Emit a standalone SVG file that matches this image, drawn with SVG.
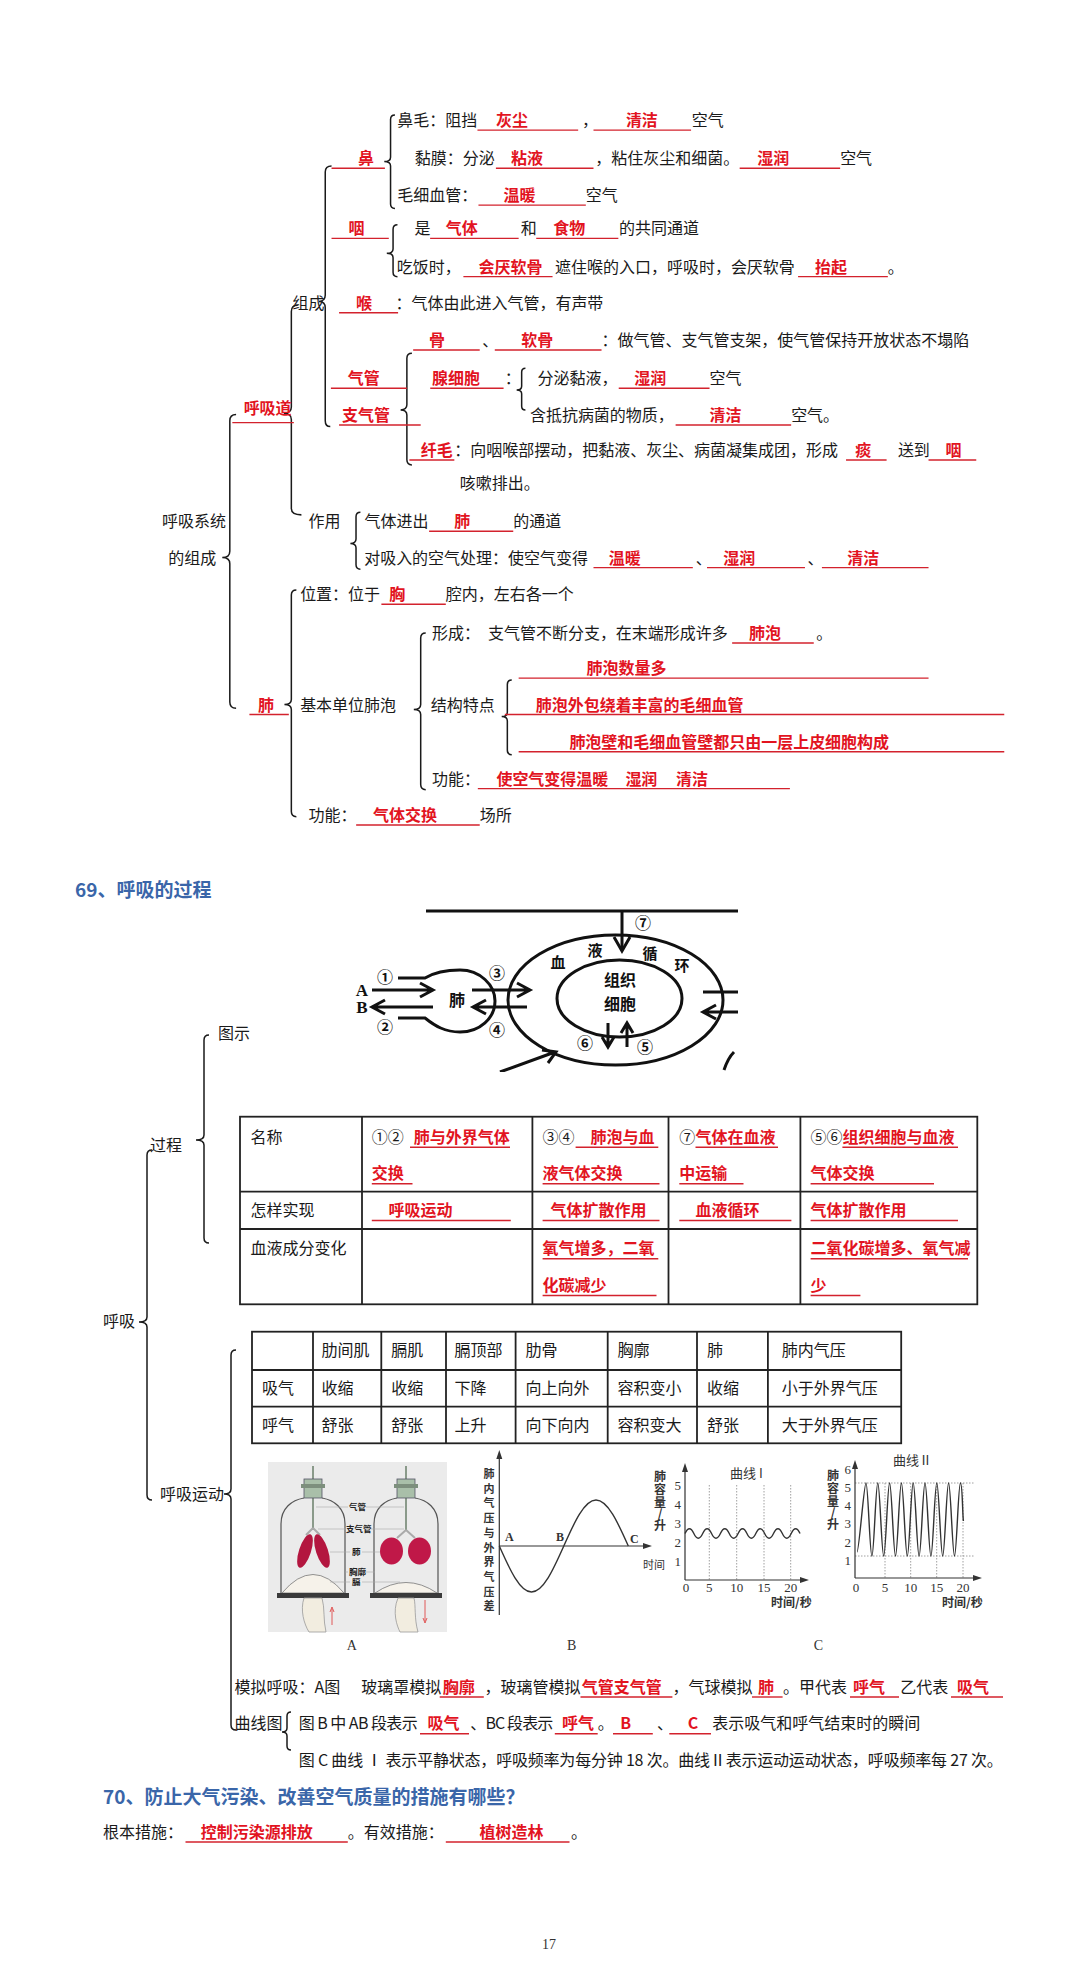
<svg xmlns="http://www.w3.org/2000/svg" width="1080" height="1979" viewBox="0 0 1080 1979">
<defs>
<style>
.t{font-family:"Noto Sans CJK SC","Noto Sans",sans-serif;font-size:12.74px;fill:#1a1a1a}
.r{font-family:"Noto Sans CJK SC","Noto Sans",sans-serif;font-size:12.74px;font-weight:700;fill:#e2141f}
.u{stroke:#d3222d;stroke-width:1.1;fill:none}
.br{fill:none;stroke:#1a1a1a;stroke-width:1.2}
.t16{font-family:"Noto Sans CJK SC","Noto Sans",sans-serif;font-size:16px;fill:#1a1a1a}
.r16{font-family:"Noto Sans CJK SC","Noto Sans",sans-serif;font-size:16px;font-weight:700;fill:#e2141f}
.u16{stroke:#d3222d;stroke-width:1.4;fill:none}
.br16{fill:none;stroke:#1a1a1a;stroke-width:1.5}
.h{font-family:"Noto Sans CJK SC","Noto Sans",sans-serif;font-size:19px;font-weight:700;fill:#3a66a9}
.fig{fill:none;stroke:#111;stroke-width:3}
.fgt{font-family:"Noto Sans CJK SC","Noto Sans",sans-serif;font-weight:700;fill:#111;text-anchor:middle}
.grid{stroke:#888;stroke-width:0.8;stroke-dasharray:1.5 1.5;fill:none}
.ax{stroke:#333;stroke-width:1.2;fill:none}
.cv{stroke:#333;stroke-width:1.4;fill:none}
.tb{fill:none;stroke:#222;stroke-width:1.8}
.gl{font-family:"Liberation Serif",serif;font-size:13px;fill:#333}
.gc{font-family:"Noto Sans CJK SC",sans-serif;font-size:12px;font-weight:700;fill:#333}
.lb{font-family:"Noto Sans CJK SC",sans-serif;font-size:8.5px;font-weight:700;fill:#222}
.ld{stroke:#aaa;stroke-width:0.6}
</style>
<clipPath id="clipFig"><rect x="340" y="895" width="398" height="177"/></clipPath>
</defs>
<rect width="1080" height="1979" fill="#fff"/>

<!-- ===== Section: respiratory system composition (drawn in scaled coordinates) ===== -->
<g transform="scale(1.2558)">
<g id="connectors-top">
<path class="br" d="M314.5,91.6 Q311,91.6 311,95.1 L311,125.2 Q311,128.7 306,128.7 Q311,128.7 311,132.2 L311,162.5 Q311,166 314.5,166"/>
<path class="br" d="M316.5,179 Q313,179 313,182.5 L313,198.2 Q313,201.7 308,201.7 Q313,201.7 313,205.2 L313,216.8 Q313,220.3 316.5,220.3"/>
<path class="br" d="M264,132.2 Q259,132.2 259,137 L259,235 Q259,240 254,240 Q259,240 259,245 L259,335 Q259,339.7 263,339.7"/>
<path class="br" d="M237,243 Q232,243 232,248 L232,324 Q232,329 226,329 Q232,329 232,334 L232,405 Q232,410 240,410"/>
<path class="br" d="M328,281.3 Q324,281.3 324,285.3 L324,322.4 Q324,326.4 319,326.4 Q324,326.4 324,330.4 L324,366.2 Q324,370.2 328,370.2"/>
<path class="br" d="M418.4,293.3 Q415.4,293.3 415.4,296.3 L415.4,307.5 Q415.4,310.5 411.4,310.5 Q415.4,310.5 415.4,313.5 L415.4,323.4 Q415.4,326.4 418.4,326.4"/>
<path class="br" d="M287,408 Q283.5,408 283.5,411.5 L283.5,429.2 Q283.5,432.7 279,432.7 Q283.5,432.7 283.5,436.2 L283.5,449.8 Q283.5,453.3 287,453.3"/>
<path class="br" d="M188,330 Q183,330 183,335 L183,439 Q183,444 177,444 Q183,444 183,449 L183,559 Q183,564 188,564"/>
<path class="br" d="M236,469.8 Q232,469.8 232,473.8 L232,557 Q232,561 226.5,561 Q232,561 232,565 L232,646.3 Q232,650.3 236,650.3"/>
<path class="br" d="M339,504 Q335,504 335,508 L335,561 Q335,565 329.5,565 Q335,565 335,569 L335,624.8 Q335,628.8 339,628.8"/>
<path class="br" d="M407.5,541.5 Q404,541.5 404,545 L404,567.1 Q404,570.6 399.5,570.6 Q404,570.6 404,574.1 L404,597.5 Q404,601 407.5,601"/>
</g>

<g id="n-bi">
<text class="r" x="285" y="130.8">鼻</text><line class="u" x1="264" y1="134" x2="306.5" y2="134"/>
<text class="t" x="316.3" y="100.4">鼻毛：阻挡</text>
<text class="r" x="395" y="100.4">灰尘</text><line class="u" x1="380.2" y1="103.6" x2="460.4" y2="103.6"/>
<text class="t" x="463.4" y="100.4">，</text>
<text class="r" x="498.4" y="100.4">清洁</text><line class="u" x1="472.6" y1="103.6" x2="550.3" y2="103.6"/>
<text class="t" x="550.9" y="100.4">空气</text>
<text class="t" x="330.3" y="130.8">黏膜：分泌</text>
<text class="r" x="407" y="130.8">粘液</text><line class="u" x1="394.9" y1="134" x2="472.6" y2="134"/>
<text class="t" x="474.1" y="130.8">，粘住灰尘和细菌。</text>
<text class="r" x="603" y="130.8">湿润</text><line class="u" x1="589" y1="134" x2="669" y2="134"/>
<text class="t" x="669" y="130.8">空气</text>
<text class="t" x="316.3" y="160.1">毛细血管：</text>
<text class="r" x="401" y="160.1">温暖</text><line class="u" x1="381" y1="163.3" x2="466.5" y2="163.3"/>
<text class="t" x="466.5" y="160.1">空气</text>
</g>

<g id="n-yan">
<text class="r" x="277.6" y="186.6">咽</text><line class="u" x1="264" y1="189.8" x2="309.6" y2="189.8"/>
<text class="t" x="330" y="186.6">是</text>
<text class="r" x="355" y="186.6">气体</text><line class="u" x1="342.5" y1="189.8" x2="413" y2="189.8"/>
<text class="t" x="414.7" y="186.6">和</text>
<text class="r" x="440.6" y="186.6">食物</text><line class="u" x1="427" y1="189.8" x2="492.4" y2="189.8"/>
<text class="t" x="493" y="186.6">的共同通道</text>
<text class="t" x="316" y="217.1">吃饭时，</text>
<text class="r" x="381" y="217.1">会厌软骨</text><line class="u" x1="369" y1="220.3" x2="440" y2="220.3"/>
<text class="t" x="442" y="217.1">遮住喉的入口，呼吸时，会厌软骨</text>
<text class="r" x="649" y="217.1">抬起</text><line class="u" x1="635.5" y1="220.3" x2="707" y2="220.3"/>
<text class="t" x="707" y="217.1">。</text>
</g>

<g id="n-zucheng"><text class="t" x="233" y="245.8">组成</text></g>

<g id="n-hou">
<text class="r" x="283.5" y="245.8">喉</text><line class="u" x1="270" y1="249" x2="317" y2="249"/>
<text class="t" x="315" y="245.8">：气体由此进入气管，有声带</text>
</g>

<g id="n-qiguan">
<text class="r" x="341.6" y="275.5">骨</text><line class="u" x1="329" y1="278.7" x2="382" y2="278.7"/>
<text class="t" x="384" y="275.5">、</text>
<text class="r" x="415" y="275.5">软骨</text><line class="u" x1="394" y1="278.7" x2="479" y2="278.7"/>
<text class="t" x="479" y="275.5">：做气管、支气管支架，使气管保持开放状态不塌陷</text>
<text class="r" x="277" y="306">气管</text><line class="u" x1="263.5" y1="309.2" x2="324" y2="309.2"/>
<text class="r" x="272.4" y="335.2">支气管</text><line class="u" x1="270" y1="338.4" x2="335" y2="338.4"/>
<text class="r" x="344" y="306">腺细胞</text><line class="u" x1="342.6" y1="309.2" x2="401" y2="309.2"/>
<text class="t" x="402" y="306">：</text>
<text class="t" x="428" y="306">分泌黏液，</text>
<text class="r" x="505" y="306">湿润</text><line class="u" x1="492.7" y1="309.2" x2="565" y2="309.2"/>
<text class="t" x="565" y="306">空气</text>
<text class="t" x="422" y="335.2">含抵抗病菌的物质，</text>
<text class="r" x="565" y="335.2">清洁</text><line class="u" x1="538" y1="338.4" x2="630" y2="338.4"/>
<text class="t" x="630" y="335.2">空气。</text>
<text class="r" x="335" y="363.1">纤毛</text><line class="u" x1="326" y1="366.3" x2="361.8" y2="366.3"/>
<text class="t" x="361.8" y="363.1">：向咽喉部摆动，把黏液、灰尘、病菌凝集成团，形成</text>
<text class="r" x="681" y="363.1">痰</text><line class="u" x1="673.7" y1="366.3" x2="706" y2="366.3"/>
<text class="t" x="715" y="363.1">送到</text>
<text class="r" x="753" y="363.1">咽</text><line class="u" x1="739.4" y1="366.3" x2="777.4" y2="366.3"/>
<text class="t" x="366.2" y="389.6">咳嗽排出。</text>
</g>

<g id="n-huxidao">
<text class="r" x="194" y="329.9">呼吸道</text><line class="u" x1="185" y1="336.5" x2="234" y2="336.5"/>
</g>

<g id="n-system">
<text class="t" x="129" y="419.8">呼吸系统</text>
<text class="t" x="134" y="448.8">的组成</text>
</g>

<g id="n-zuoyong">
<text class="t" x="245.6" y="419.8">作用</text>
<text class="t" x="290.3" y="419.8">气体进出</text>
<text class="r" x="361.8" y="419.8">肺</text><line class="u" x1="341.7" y1="423" x2="408.7" y2="423"/>
<text class="t" x="408.7" y="419.8">的通道</text>
<text class="t" x="290" y="448.8">对吸入的空气处理：使空气变得</text>
<text class="r" x="484.7" y="448.8">温暖</text><line class="u" x1="472.6" y1="452" x2="551.7" y2="452"/>
<text class="t" x="554" y="448.8">、</text>
<text class="r" x="576" y="448.8">湿润</text><line class="u" x1="563" y1="452" x2="641" y2="452"/>
<text class="t" x="643" y="448.8">、</text>
<text class="r" x="674.6" y="448.8">清洁</text><line class="u" x1="654.5" y1="452" x2="739.4" y2="452"/>
</g>

<g id="n-fei">
<text class="r" x="205.4" y="565.8">肺</text><line class="u" x1="198.6" y1="569" x2="230" y2="569"/>
<text class="t" x="239" y="478">位置：位于</text>
<text class="r" x="310" y="478">胸</text><line class="u" x1="303.7" y1="481.2" x2="355" y2="481.2"/>
<text class="t" x="355" y="478">腔内，左右各一个</text>
<text class="t" x="239" y="565.8">基本单位肺泡</text>
<text class="t" x="344" y="508.8">形成：</text>
<text class="t" x="388.6" y="508.8">支气管不断分支，在末端形成许多</text>
<text class="r" x="596.4" y="508.8">肺泡</text><line class="u" x1="583" y1="512" x2="648" y2="512"/>
<text class="t" x="650" y="508.8">。</text>
<text class="t" x="343" y="565.8">结构特点</text>
<text class="r" x="467" y="536.8">肺泡数量多</text><line class="u" x1="413" y1="540" x2="739.4" y2="540"/>
<text class="r" x="426.6" y="565.8">肺泡外包绕着丰富的毛细血管</text><line class="u" x1="402" y1="569" x2="799.7" y2="569"/>
<text class="r" x="453.4" y="595.4">肺泡壁和毛细血管壁都只由一层上皮细胞构成</text><line class="u" x1="413" y1="598.6" x2="799.7" y2="598.6"/>
<text class="t" x="344" y="624.8">功能：</text>
<text class="r" x="395.3" y="624.8">使空气变得温暖</text>
<text class="r" x="498" y="624.8">湿润</text>
<text class="r" x="538.3" y="624.8">清洁</text><line class="u" x1="380.5" y1="628" x2="629" y2="628"/>
<text class="t" x="245.6" y="653.8">功能：</text>
<text class="r" x="297" y="653.8">气体交换</text><line class="u" x1="283.6" y1="657" x2="382" y2="657"/>
<text class="t" x="382" y="653.8">场所</text>
</g>
</g>

<!-- ===== Section 69 ===== -->
<g id="h69"><text class="h" x="75" y="897">69、呼吸的过程</text></g>

<g id="connectors-69">
<path class="br16" d="M209,1035 Q204,1035 204,1040 L204,1135 Q204,1140 196,1140 Q204,1140 204,1145 L204,1238 Q204,1243 209,1243"/>
<path class="br16" d="M152,1150 Q147,1150 147,1155 L147,1317 Q147,1322 139,1322 Q147,1322 147,1327 L147,1495 Q147,1500 152,1500"/>
<path class="br16" d="M236,1350 Q231,1350 231,1355 L231,1489 Q231,1494 224,1494 Q231,1494 231,1499 L231,1725 Q231,1730 236,1730"/>
<path class="br16" d="M291,1712 Q287,1712 287,1716 L287,1728 Q287,1732 282,1732 Q287,1732 287,1736 L287,1746 Q287,1750 291,1750"/>
</g>

<g id="n-tushi"><text class="t16" x="218" y="1039">图示</text></g>
<g id="n-guocheng"><text class="t16" x="150" y="1151">过程</text></g>
<g id="n-huxi"><text class="t16" x="103" y="1327">呼吸</text></g>
<g id="n-huxiyundong"><text class="t16" x="160" y="1500">呼吸运动</text></g>

<!-- process figure -->
<g id="process-figure" clip-path="url(#clipFig)">
<line class="fig" x1="426" y1="911" x2="740" y2="911"/>
<line class="fig" x1="622" y1="911" x2="622" y2="948"/>
<path class="fig" d="M614,937 L622,951 L630,937"/>
<ellipse class="fig" cx="615.5" cy="1000" rx="107.5" ry="65"/>
<ellipse class="fig" cx="619.5" cy="998.5" rx="62.5" ry="38.5"/>
<path class="fig" d="M398,978 H425 C435,972 445,970 460,970 C480,970 495,985 495,1001 C495,1018 480,1032 460,1032 C445,1032 435,1026 425,1018 H398"/>
<path class="fig" d="M372,990 H431 M420,983 L433,990 L420,997"/>
<path class="fig" d="M433,1007 H374 M385,1000 L372,1007 L385,1014"/>
<path class="fig" d="M472,990 H528 M517,983 L530,990 L517,997"/>
<path class="fig" d="M527,1007 H475 M486,1000 L473,1007 L486,1014"/>
<path class="fig" d="M703,992 H740 M740,1012 H705 M716,1005 L703,1012 L716,1019"/>
<path class="fig" d="M608,1023 V1045 M602,1037 L608,1047 L614,1037"/>
<path class="fig" d="M627,1047 V1025 M621,1033 L627,1023 L633,1033"/>
<path class="fig" d="M500,1072 L555,1052 M542,1050 L556,1052 L548,1063"/>
<path class="fig" d="M724,1070 Q728,1058 734,1052"/>
<text class="fgt" font-size="16" x="385" y="983">①</text>
<text class="fgt" font-size="16" x="385" y="1033">②</text>
<text class="fgt" font-size="16" x="497" y="979">③</text>
<text class="fgt" font-size="16" x="497" y="1036">④</text>
<text class="fgt" font-size="16" x="645" y="1053">⑤</text>
<text class="fgt" font-size="16" x="585" y="1049">⑥</text>
<text class="fgt" font-size="16" x="643" y="929">⑦</text>
<text x="362" y="996" font-family="Liberation Serif,serif" font-size="17" font-weight="700" fill="#111" text-anchor="middle">A</text>
<text x="362" y="1013" font-family="Liberation Serif,serif" font-size="17" font-weight="700" fill="#111" text-anchor="middle">B</text>
<text class="fgt" font-size="16" x="457" y="1006">肺</text>
<text class="fgt" font-size="15" x="558" y="968">血</text>
<text class="fgt" font-size="15" x="595" y="956">液</text>
<text class="fgt" font-size="15" x="650" y="959">循</text>
<text class="fgt" font-size="15" x="682" y="971">环</text>
<text class="fgt" font-size="16" x="620" y="986">组织</text>
<text class="fgt" font-size="16" x="620" y="1010">细胞</text>
</g>

<!-- process table -->
<g id="table-process">
<rect class="tb" x="240" y="1116.7" width="737.3" height="187.6"/>
<line class="tb" x1="240" y1="1191.7" x2="977.3" y2="1191.7" stroke-width="3.2"/>
<line class="tb" x1="240" y1="1229" x2="977.3" y2="1229"/>
<line class="tb" x1="362" y1="1116.7" x2="362" y2="1304.3" stroke-width="1.2"/>
<line class="tb" x1="532.4" y1="1116.7" x2="532.4" y2="1304.3" stroke-width="1.2"/>
<line class="tb" x1="668.5" y1="1116.7" x2="668.5" y2="1304.3" stroke-width="1.2"/>
<line class="tb" x1="800.4" y1="1116.7" x2="800.4" y2="1304.3" stroke-width="1.2"/>
<text class="t16" x="250.6" y="1142.7">名称</text>
<text class="t16" x="250.6" y="1216">怎样实现</text>
<text class="t16" x="250.6" y="1254.3">血液成分变化</text>
<text class="t16" x="371.8" y="1142.7">①②</text>
<text class="r16" x="413.7" y="1142.7">肺与外界气体</text><line class="u16" x1="410" y1="1147.2" x2="510" y2="1147.2"/>
<text class="r16" x="371.8" y="1179.3">交换</text><line class="u16" x1="371.8" y1="1183.8" x2="412.5" y2="1183.8"/>
<text class="t16" x="542.6" y="1142.7">③④</text>
<text class="r16" x="590.6" y="1142.7">肺泡与血</text><line class="u16" x1="575.6" y1="1147.2" x2="658.3" y2="1147.2"/>
<text class="r16" x="542.6" y="1179.3">液气体交换</text><line class="u16" x1="542.6" y1="1183.8" x2="659.5" y2="1183.8"/>
<text class="t16" x="679.3" y="1142.7">⑦</text>
<text class="r16" x="695.5" y="1142.7">气体在血液</text><line class="u16" x1="695.5" y1="1147.2" x2="778" y2="1147.2"/>
<text class="r16" x="679.3" y="1179.3">中运输</text><line class="u16" x1="679.3" y1="1183.8" x2="743.5" y2="1183.8"/>
<text class="t16" x="810.6" y="1142.7">⑤⑥</text>
<text class="r16" x="842.4" y="1142.7">组织细胞与血液</text><line class="u16" x1="842.4" y1="1147.2" x2="958" y2="1147.2"/>
<text class="r16" x="810.6" y="1179.3">气体交换</text><line class="u16" x1="810.6" y1="1183.8" x2="934" y2="1183.8"/>
<text class="r16" x="388.5" y="1216">呼吸运动</text><line class="u16" x1="371.8" y1="1220.5" x2="510.8" y2="1220.5"/>
<text class="r16" x="550.4" y="1216">气体扩散作用</text><line class="u16" x1="542.6" y1="1220.5" x2="659.5" y2="1220.5"/>
<text class="r16" x="695.5" y="1216">血液循环</text><line class="u16" x1="679.3" y1="1220.5" x2="791.4" y2="1220.5"/>
<text class="r16" x="810.6" y="1216">气体扩散作用</text><line class="u16" x1="810.6" y1="1220.5" x2="958" y2="1220.5"/>
<text class="r16" x="542.6" y="1254.3">氧气增多，二氧</text><line class="u16" x1="542.6" y1="1258.8" x2="658.3" y2="1258.8"/>
<text class="r16" x="542.6" y="1291">化碳减少</text><line class="u16" x1="542.6" y1="1295.5" x2="656.5" y2="1295.5"/>
<text class="r16" x="810.6" y="1254.3">二氧化碳增多、氧气减</text><line class="u16" x1="810.6" y1="1258.8" x2="968" y2="1258.8"/>
<text class="r16" x="810.6" y="1291">少</text><line class="u16" x1="810.6" y1="1295.5" x2="860.4" y2="1295.5"/>
</g>

<!-- breathing movement table -->
<g id="table-movement">
<rect class="tb" x="252" y="1331.7" width="649.2" height="111.6"/>
<line class="tb" x1="252" y1="1370" x2="901.2" y2="1370" stroke-width="1.4"/>
<line class="tb" x1="252" y1="1406.7" x2="901.2" y2="1406.7" stroke-width="1.4"/>
<line class="tb" x1="313" y1="1331.7" x2="313" y2="1443.3" stroke-width="1.4"/>
<line class="tb" x1="381.3" y1="1331.7" x2="381.3" y2="1443.3" stroke-width="1.4"/>
<line class="tb" x1="446" y1="1331.7" x2="446" y2="1443.3" stroke-width="1.4"/>
<line class="tb" x1="515.6" y1="1331.7" x2="515.6" y2="1443.3" stroke-width="1.4"/>
<line class="tb" x1="607.7" y1="1331.7" x2="607.7" y2="1443.3" stroke-width="1.4"/>
<line class="tb" x1="697" y1="1331.7" x2="697" y2="1443.3" stroke-width="1.4"/>
<line class="tb" x1="767.9" y1="1331.7" x2="767.9" y2="1443.3" stroke-width="1.4"/>
<g class="t16" fill="#333">
<text x="321.6" y="1356">肋间肌</text><text x="391.2" y="1356">膈肌</text><text x="454.4" y="1356">膈顶部</text><text x="525.6" y="1356">肋骨</text><text x="617.6" y="1356">胸廓</text><text x="707" y="1356">肺</text><text x="781.8" y="1356">肺内气压</text>
<text x="262" y="1394">吸气</text><text x="321.6" y="1394">收缩</text><text x="391.2" y="1394">收缩</text><text x="454.4" y="1394">下降</text><text x="525.6" y="1394">向上向外</text><text x="617.6" y="1394">容积变小</text><text x="707" y="1394">收缩</text><text x="781.8" y="1394">小于外界气压</text>
<text x="262" y="1431">呼气</text><text x="321.6" y="1431">舒张</text><text x="391.2" y="1431">舒张</text><text x="454.4" y="1431">上升</text><text x="525.6" y="1431">向下向内</text><text x="617.6" y="1431">容积变大</text><text x="707" y="1431">舒张</text><text x="781.8" y="1431">大于外界气压</text>
</g>
</g>

<!-- figure A: bell jar model -->
<g id="fig-A">
<rect x="268" y="1462" width="179" height="170" fill="#ebebeb"/>
<line x1="313" y1="1466" x2="313" y2="1530" stroke="#8a9a8a" stroke-width="2"/>
<rect x="304" y="1479" width="18" height="19" fill="#a9bfa9" stroke="#556" stroke-width="0.8"/>
<rect x="301" y="1484" width="24" height="4" fill="#7d8f7d"/>
<path d="M304,1498 C292,1500 281,1508 281,1524 L281,1594 M322,1498 C334,1500 345,1508 345,1524 L345,1594" fill="none" stroke="#555" stroke-width="1.2"/>
<path d="M282,1593 Q313,1556 344,1593 Z" fill="#f6f2ea" stroke="#777" stroke-width="0.8"/>
<rect x="277" y="1593" width="72" height="5" fill="#3a3a3a"/>
<path d="M304,1598 C300,1610 304,1624 309,1632 L326,1632 C323,1620 325,1608 322,1598 Z" fill="#f2ede0" stroke="#999" stroke-width="0.8"/>
<path d="M313,1528 L306,1535 M313,1528 L320,1535" stroke="#aaa" stroke-width="2" fill="none"/>
<ellipse cx="305" cy="1551" rx="6" ry="17.5" transform="rotate(18 305 1551)" fill="#b3163f"/>
<ellipse cx="322" cy="1551" rx="6" ry="17.5" transform="rotate(-18 322 1551)" fill="#b3163f"/>
<path d="M332,1625 V1609 M330,1612 L332,1607 L334,1612" stroke="#d33" stroke-width="0.8" fill="none"/>
<line x1="406" y1="1466" x2="406" y2="1530" stroke="#8a9a8a" stroke-width="2"/>
<rect x="397" y="1479" width="18" height="19" fill="#a9bfa9" stroke="#556" stroke-width="0.8"/>
<rect x="394" y="1484" width="24" height="4" fill="#7d8f7d"/>
<path d="M397,1498 C385,1500 374,1508 374,1524 L374,1594 M415,1498 C427,1500 438,1508 438,1524 L438,1594" fill="none" stroke="#555" stroke-width="1.2"/>
<path d="M375,1593 Q406,1572 437,1593 Z" fill="#f6f2ea" stroke="#777" stroke-width="0.8"/>
<rect x="370" y="1593" width="72" height="5" fill="#3a3a3a"/>
<path d="M398,1598 C392,1612 397,1626 400,1632 L418,1632 C414,1618 416,1606 414,1598 Z" fill="#f2ede0" stroke="#999" stroke-width="0.8"/>
<path d="M406,1530 L397,1538 M406,1530 L415,1538" stroke="#aaa" stroke-width="2" fill="none"/>
<ellipse cx="391.5" cy="1551" rx="11.5" ry="13.5" fill="#c01848"/>
<ellipse cx="419.5" cy="1551" rx="11.5" ry="13.5" fill="#c01848"/>
<path d="M425,1600 V1621 M423,1618 L425,1623 L427,1618" stroke="#d33" stroke-width="0.8" fill="none"/>
<path class="ld" d="M316,1507 H348 M366,1507 H404 M318,1529 H346 M371,1529 H404 M330,1552 H350 M362,1552 H380 M345,1572 H348 M366,1572 H375 M330,1582 H350 M362,1582 H400"/>
<text class="lb" x="349" y="1510">气管</text>
<text class="lb" x="346" y="1532">支气管</text>
<text class="lb" x="352" y="1555">肺</text>
<text class="lb" x="349" y="1575">胸廓</text>
<text class="lb" x="352" y="1585">膈</text>
</g>

<!-- figure B: pressure curve -->
<g id="fig-B">
<path class="ax" d="M499.3,1615 V1455 M646,1546 H499.3"/>
<path d="M499.3,1450 L496.3,1459 L502.3,1459 Z M652,1546 L643,1543 L643,1549 Z" fill="#333"/>
<path class="cv" d="M499.3,1546 C509.8,1569.6 519.9,1592 531.5,1592 C543.2,1592 553.3,1569.6 563.8,1546 C574.3,1522.4 584.4,1500 596,1500 C607.7,1500 617.8,1522.4 628.3,1546"/>
<text x="505" y="1541" font-family="Liberation Serif,serif" font-size="12" font-weight="700" fill="#333">A</text>
<text x="556" y="1541" font-family="Liberation Serif,serif" font-size="12" font-weight="700" fill="#333">B</text>
<text x="630" y="1543" font-family="Liberation Serif,serif" font-size="12" font-weight="700" fill="#333">C</text>
<text x="643" y="1569" font-family="Noto Sans CJK SC,sans-serif" font-size="11" fill="#333">时间</text>
<text font-family="Noto Sans CJK SC,sans-serif" font-size="11" font-weight="700" fill="#333" text-anchor="middle" x="489 489 489 489 489 489 489 489 489 489" y="1478 1492.7 1507.4 1522.1 1536.8 1551.5 1566.2 1580.9 1595.6 1610.3">肺内气压与外界气压差</text>
</g>

<!-- figure C: lung capacity curves -->
<g id="fig-C1">
<path class="grid" d="M709.3,1485 V1580 M736.7,1485 V1580 M764,1485 V1580 M790.7,1485 V1580"/>
<path class="ax" d="M685,1580 V1470 M685,1580 H803"/>
<path d="M685,1463 L682,1472 L688,1472 Z M809,1580 L800,1577 L800,1583 Z" fill="#333"/>
<path class="cv" d="M685,1533.5 c2.95,-6.33 5.9,-6.33 8.85,0 s5.9,6.33 8.85,0 s5.9,-6.33 8.85,0 s5.9,6.33 8.85,0 s5.9,-6.33 8.85,0 s5.9,6.33 8.85,0 s5.9,-6.33 8.85,0 s5.9,6.33 8.85,0 s5.9,-6.33 8.85,0 s5.9,6.33 8.85,0 s5.9,-6.33 8.85,0 s5.9,6.33 8.85,0 s5.9,-6.33 8.85,0"/>
<g class="gl" text-anchor="end">
<text x="681" y="1489.5">5</text><text x="681" y="1508.5">4</text><text x="681" y="1527.5">3</text><text x="681" y="1546.5">2</text><text x="681" y="1565.5">1</text>
</g>
<g class="gl" text-anchor="middle">
<text x="686" y="1592">0</text><text x="709.3" y="1592">5</text><text x="736.7" y="1592">10</text><text x="764" y="1592">15</text><text x="790.7" y="1592">20</text>
</g>
<text x="730" y="1478" font-family="Noto Sans CJK SC,sans-serif" font-size="13" fill="#333">曲线 I</text>
<text class="gc" text-anchor="middle" x="660 660 660 660 660" y="1481 1494 1507 1518 1530">肺容量/升</text>
<text class="gc" x="771" y="1607">时间/秒</text>
</g>

<g id="fig-C2">
<path class="grid" d="M855,1483 H975 M855,1556 H975 M885,1483 V1578 M910.7,1483 V1578 M936.7,1483 V1578 M963,1483 V1578"/>
<path class="ax" d="M855,1578 V1467 M855,1578 H976"/>
<path d="M855,1460 L852,1469 L858,1469 Z M982,1578 L973,1575 L973,1581 Z" fill="#333"/>
<path class="cv" d="M857,1552 C859.1,1552 863.9,1483 866,1483 s3.8,73 5.9,73 s3.8,-73 5.9,-73 s3.8,73 5.9,73 s3.8,-73 5.9,-73 s3.8,73 5.9,73 s3.8,-73 5.9,-73 s3.8,73 5.9,73 s3.8,-73 5.9,-73 s3.8,73 5.9,73 s3.8,-73 5.9,-73 s3.8,73 5.9,73 s3.8,-73 5.9,-73 s3.8,73 5.9,73 s3.8,-73 5.9,-73 s3.8,73 5.9,73 s3.8,-73 5.9,-73 s2,30 3,38"/>
<g class="gl" text-anchor="end">
<text x="851" y="1473.5">6</text><text x="851" y="1491.5">5</text><text x="851" y="1509.5">4</text><text x="851" y="1527.5">3</text><text x="851" y="1546.5">2</text><text x="851" y="1564.5">1</text>
</g>
<g class="gl" text-anchor="middle">
<text x="856" y="1592">0</text><text x="885" y="1592">5</text><text x="910.7" y="1592">10</text><text x="936.7" y="1592">15</text><text x="963" y="1592">20</text>
</g>
<text x="893" y="1465" font-family="Noto Sans CJK SC,sans-serif" font-size="13" fill="#333">曲线Ⅱ</text>
<text class="gc" text-anchor="middle" x="833 833 833 833 833" y="1480 1493 1506 1517 1529">肺容量/升</text>
<text class="gc" x="942" y="1607">时间/秒</text>
</g>

<g id="fig-labels" font-family="Liberation Serif,serif" font-size="14" fill="#333" text-anchor="middle">
<text x="351.7" y="1650">A</text><text x="571.7" y="1650">B</text><text x="818.3" y="1650">C</text>
</g>

<!-- explanations -->
<g id="n-moni">
<text class="t16" x="234.5" y="1692.7">模拟呼吸：A图</text>
<text class="t16" x="361.3" y="1692.7">玻璃罩模拟</text>
<text class="r16" x="442.7" y="1692.7">胸廓</text><line class="u16" x1="439.7" y1="1697" x2="483.8" y2="1697"/>
<text class="t16" x="484.4" y="1692.7">，玻璃管模拟</text>
<text class="r16" x="581.7" y="1692.7">气管支气管</text><line class="u16" x1="580.5" y1="1697" x2="672.4" y2="1697"/>
<text class="t16" x="672.4" y="1692.7">，气球模拟</text>
<text class="r16" x="758" y="1692.7">肺</text><line class="u16" x1="752" y1="1697" x2="782.6" y2="1697"/>
<text class="t16" x="783" y="1692.7">。甲代表</text>
<text class="r16" x="853" y="1692.7">呼气</text><line class="u16" x1="850" y1="1697" x2="899" y2="1697"/>
<text class="t16" x="900.2" y="1692.7">乙代表</text>
<text class="r16" x="957" y="1692.7">吸气</text><line class="u16" x1="951" y1="1697" x2="1003" y2="1697"/>
</g>

<g id="n-quxian">
<text class="t16" x="234.5" y="1729.3">曲线图</text>
<text class="t16" x="298.8" y="1729.3" textLength="119" lengthAdjust="spacing">图 B 中 AB 段表示</text>
<text class="r16" x="427.4" y="1729.3">吸气</text><line class="u16" x1="420" y1="1733.8" x2="469" y2="1733.8"/>
<text class="t16" x="470.3" y="1729.3" textLength="83" lengthAdjust="spacing">、BC 段表示</text>
<text class="r16" x="562" y="1729.3">呼气</text><line class="u16" x1="554.8" y1="1733.8" x2="597.7" y2="1733.8"/>
<text class="t16" x="597.7" y="1729.3">。</text>
<text class="r16" x="620.3" y="1729.3">B</text><line class="u16" x1="613" y1="1733.8" x2="652.8" y2="1733.8"/>
<text class="t16" x="657" y="1729.3">、</text>
<text class="r16" x="687.7" y="1729.3">C</text><line class="u16" x1="669.3" y1="1733.8" x2="711" y2="1733.8"/>
<text class="t16" x="712.2" y="1729.3">表示吸气和呼气结束时的瞬间</text>
<text class="t16" x="298.8" y="1766" textLength="704" lengthAdjust="spacing">图 C 曲线 Ⅰ 表示平静状态，呼吸频率为每分钟 18 次。曲线Ⅱ表示运动运动状态，呼吸频率每 27 次。</text>
</g>

<!-- Section 70 -->
<g id="h70"><text class="h" x="103" y="1803.5">70、防止大气污染、改善空气质量的措施有哪些？</text></g>
<g id="n-cuoshi">
<text class="t16" x="103" y="1837.7">根本措施：</text>
<text class="r16" x="200.8" y="1837.7">控制污染源排放</text><line class="u16" x1="185.5" y1="1842" x2="347.8" y2="1842"/>
<text class="t16" x="347.8" y="1837.7">。有效措施：</text>
<text class="r16" x="479.5" y="1837.7">植树造林</text><line class="u16" x1="445.8" y1="1842" x2="569.5" y2="1842"/>
<text class="t16" x="571" y="1837.7">。</text>
</g>

<g id="page-number"><text x="549" y="1949" font-family="Liberation Serif,serif" font-size="14" fill="#333" text-anchor="middle">17</text></g>
</svg>
